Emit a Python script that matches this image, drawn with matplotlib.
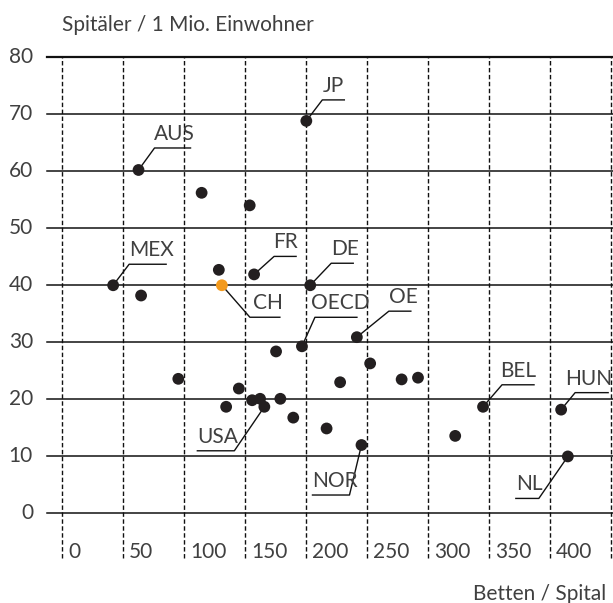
import matplotlib.pyplot as plt
from matplotlib import font_manager

# -----------------------------
# Data
# -----------------------------
countries = ["AUS", "JP", "MEX", "FR", "DE", "CH", "OECD", "OE", "USA",
             "BEL", "HUN", "NOR", "NL",
             "", "", "", "", "", "", "", "", "", "", "", "", "", "", "", "", "", ""]
beds_per_hospital = [62.7, 200.2, 41.9, 157.4, 203.4, 131.0, 196.6, 241.6, 165.8,
                     345.0, 409.0, 245.4, 414.5,
                     114.4, 153.8, 64.8, 128.5, 95.3, 134.5, 144.9, 155.8, 162.3,
                     175.4, 178.9, 189.5, 227.9, 252.5, 278.3, 291.7, 216.8, 322.2]
hospitals_per_mio = [60.2, 68.8, 40.0, 41.9, 40.0, 40.0, 29.3, 30.9, 18.7,
                     18.7, 18.2, 12.0, 10.0,
                     56.2, 54.0, 38.2, 42.7, 23.6, 18.7, 21.9, 19.85, 20.1,
                     28.4, 20.1, 16.8, 23.0, 26.3, 23.5, 23.8, 14.9, 13.6]
highlight = "CH"

x_ticks = [0, 50, 100, 150, 200, 250, 300, 350, 400, 450]
x_tick_labels = ["0", "50", "100", "150", "200", "250", "300", "350", "400", ""]
y_ticks = [0, 10, 20, 30, 40, 50, 60, 70, 80]

y_title = "Spitäler / 1 Mio. Einwohner"
x_title = "Betten / Spital"

# label leader lines: elbow offset (px), underline length (px), text shift (px)
leaders = {
    "AUS": (16, 22, 36, -1),
    "MEX": (16, 21, 37, 0),
    "FR": (20, 18, 22, -1),
    "JP": (16, 21, 22, 0),
    "DE": (21, 22, 22, 0),
    "CH": (28, -32, 30, 3),
    "OECD": (13, 29, 42, -4),
    "OE": (32, 26, 22, 0),
    "USA": (-30, -44, -37, 0),
    "BEL": (19, 22, 32, -2),
    "HUN": (14, 17, 33, -10),
    "NOR": (-12, -50, -37, 0),
    "NL": (-29, -42, -23, 0),
}

# -----------------------------
# Fonts / colours
# -----------------------------
names = {f.name for f in font_manager.fontManager.ttflist}
family = "Lato" if "Lato" in names else "DejaVu Sans"
plt.rcParams["font.family"] = [family, "DejaVu Sans"]
TXT = "#404040"
DOT = "#231f20"
ORANGE = "#f39a1e"
FS = 15

W, H = 613, 603
fig = plt.figure(figsize=(W / 100, H / 100), dpi=100)
ax = fig.add_axes([47 / W, 1 - 558 / H, (613 - 47) / W, (558 - 57) / H])
ax.set_xlim(-12.3, 451.5)
ax.set_ylim(-7.8, 80)
ax.axis("off")

for yv in y_ticks:
    ax.axhline(yv, color="#111111", lw=1.1 if yv < 80 else 1.6, zorder=1, clip_on=False)
for xv in x_ticks:
    ax.axvline(xv, color="#111111", lw=1.0, dashes=(3.2, 1.8), zorder=1, clip_on=False)

# tick labels
px = ax.transData.transform
inv = ax.transData.inverted().transform
for yv in y_ticks:
    d = px((0, yv))
    ax.text(33 / W, d[1] / H, str(yv), transform=fig.transFigure, ha="right",
            va="center", fontsize=FS, color=TXT)
for xv, lab in zip(x_ticks, x_tick_labels):
    d = px((xv, 0))
    ax.text(d[0] + 6, H - 552, lab, transform=None, ha="left", va="center",
            fontsize=FS, color=TXT)

fig.text(62 / W, 1 - 25 / H, y_title, ha="left", va="center", fontsize=FS,
         color=TXT)
fig.text(606 / W, 1 - 594 / H, x_title, ha="right", va="center", fontsize=FS,
         color=TXT)

# points
cols = [ORANGE if c == highlight else DOT for c in countries]
ax.scatter(beds_per_hospital, hospitals_per_mio, s=72, c=cols, zorder=4,
           linewidths=0, clip_on=False)

# labels with leader lines
for name, xv, yv in zip(countries, beds_per_hospital, hospitals_per_mio):
    if name not in leaders:
        continue
    dx, dy, length, shift = leaders[name]
    p0 = px((xv, yv))
    p1 = (p0[0] + dx, p0[1] + dy)
    p2 = (p1[0] + length, p1[1])
    pts = inv([p0, p1, p2])
    ax.plot(pts[:, 0], pts[:, 1], color="#111111", lw=1.0, zorder=3, clip_on=False)
    left = min(p1[0], p2[0]) + shift
    ax.text(left, p1[1] + 14, name, transform=None, ha="left", va="center",
            fontsize=FS, color=TXT)

fig.savefig("out.png", dpi=100)
